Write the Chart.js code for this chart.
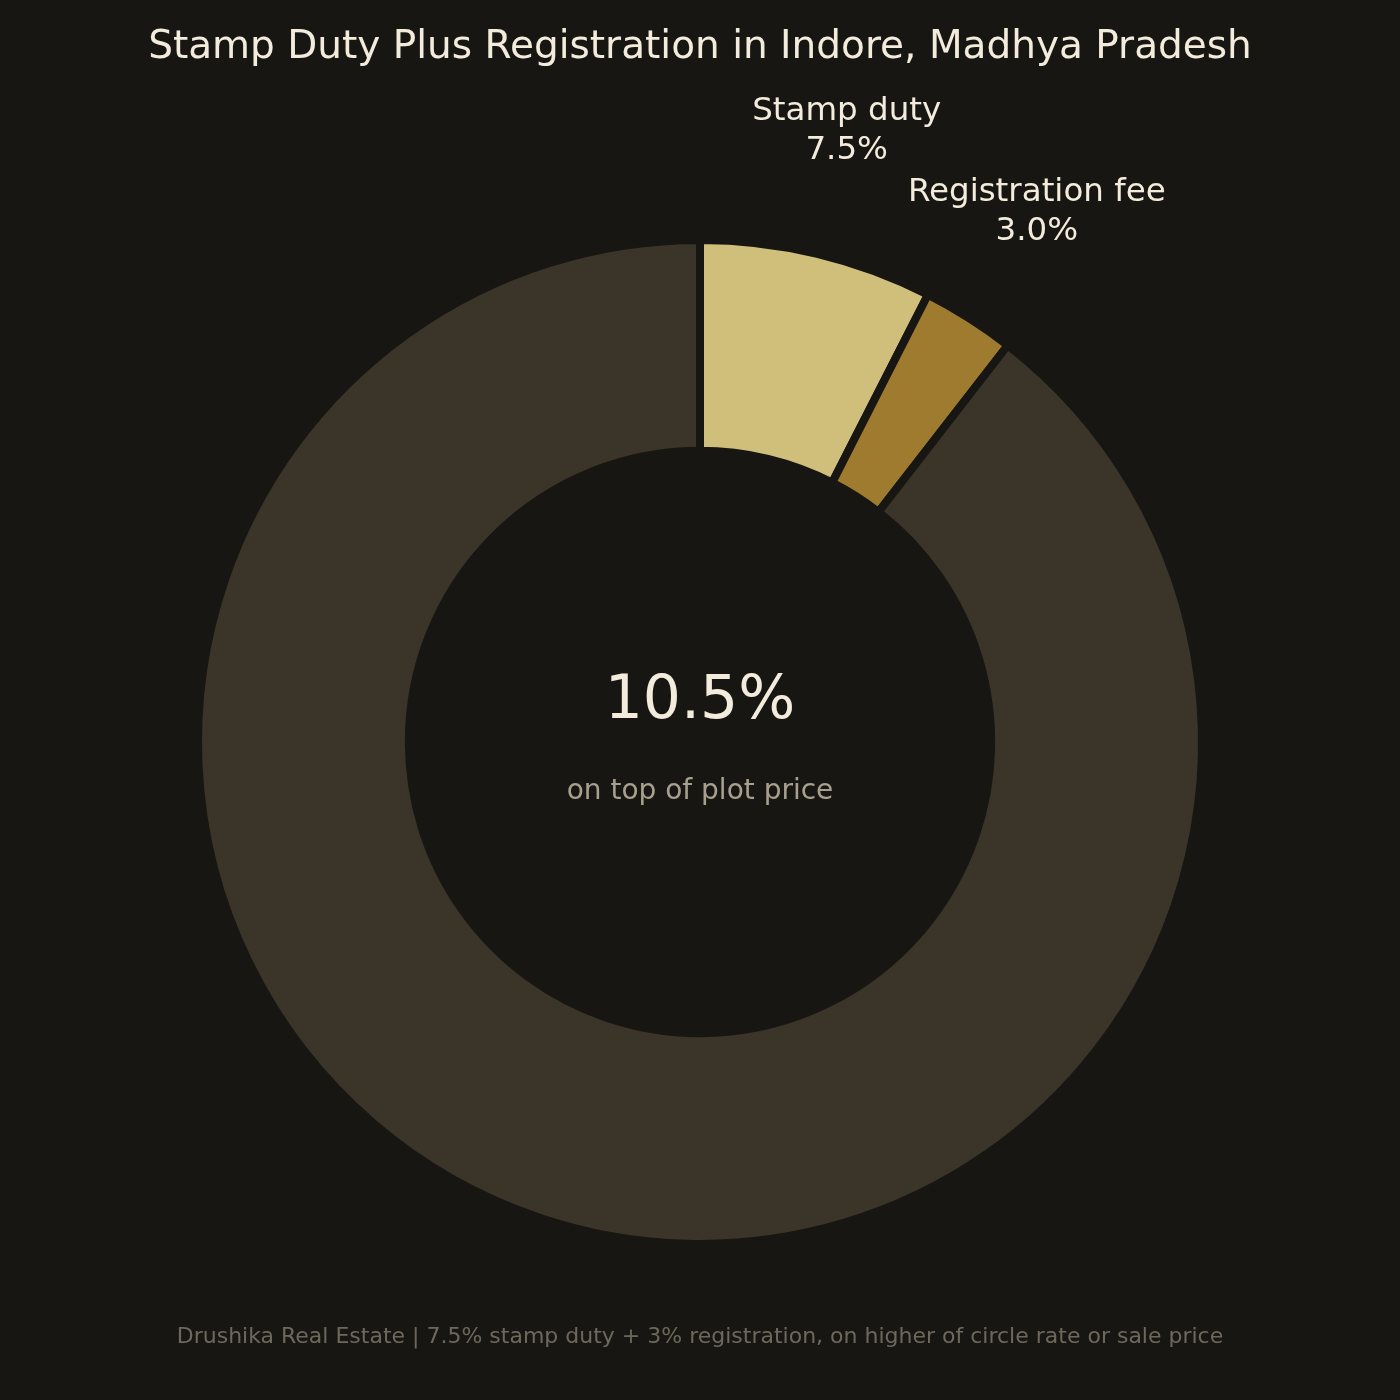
<!DOCTYPE html>
<html>
<head>
<meta charset="utf-8">
<script src="https://cdn.jsdelivr.net/npm/chart.js@4.4.1/dist/chart.umd.min.js"></script>
<style>
  html, body { margin: 0; padding: 0; background: #171612; }
  #wrap { width: 1400px; height: 1400px; position: relative; }
</style>
</head>
<body>
<div id="wrap"><canvas id="c" width="1400" height="1400"></canvas></div>
<script>
const categories = ['Stamp duty', 'Registration fee', 'Plot price'];
const values = [7.5, 3.0, 89.5];
const sliceColors = ['#cfbf7b', '#9e7b2f', '#3b3428'];
const labelledSlices = [0, 1];
const titleText = 'Stamp Duty Plus Registration in Indore, Madhya Pradesh';
const centerValue = '10.5%';
const centerNote = 'on top of plot price';
const footerText = 'Drushika Real Estate | 7.5% stamp duty + 3% registration, on higher of circle rate or sale price';

const BG = '#171612';
const FONT = '"DejaVu Sans", "Liberation Sans", sans-serif';

const textPlugin = {
  id: 'textPlugin',
  beforeDraw(chart) {
    const ctx = chart.ctx;
    ctx.save();
    ctx.fillStyle = BG;
    ctx.fillRect(0, 0, chart.width, chart.height);
    ctx.restore();
  },
  afterDraw(chart) {
    const ctx = chart.ctx;
    const meta = chart.getDatasetMeta(0);
    const arc0 = meta.data[0];
    const cx = arc0.x, cy = arc0.y;
    const outerR = arc0.outerRadius;
    ctx.save();
    ctx.textAlign = 'center';
    ctx.textBaseline = 'middle';
    // title
    ctx.fillStyle = '#f3ecdc';
    ctx.font = '39px ' + FONT;
    ctx.fillText(titleText, 700, 48);
    // slice labels
    ctx.font = '32.5px ' + FONT;
    labelledSlices.forEach(i => {
      const a = meta.data[i];
      const mid = (a.startAngle + a.endAngle) / 2;
      const r = outerR * 1.252;
      const lx = cx + Math.cos(mid) * r;
      const ly = cy + Math.sin(mid) * r;
      const pct = values[i].toFixed(1) + '%';
      ctx.fillStyle = '#f3ecdc';
      ctx.fillText(categories[i], lx, ly - 19);
      ctx.fillText(pct, lx, ly + 20);
    });
    // center
    ctx.fillStyle = '#f3ecdc';
    ctx.font = '60px ' + FONT;
    ctx.fillText(centerValue, cx, cy - 40);
    ctx.fillStyle = '#a8a08e';
    ctx.font = '28px ' + FONT;
    ctx.fillText(centerNote, cx, cy + 50);
    // footer
    ctx.fillStyle = '#6e685c';
    ctx.font = '22px ' + FONT;
    ctx.fillText(footerText, 700, 1337);
    ctx.restore();
  }
};

new Chart(document.getElementById('c'), {
  type: 'doughnut',
  data: {
    labels: categories,
    datasets: [{
      data: values,
      backgroundColor: sliceColors,
      borderColor: BG,
      borderWidth: 8,
      hoverOffset: 0
    }]
  },
  options: {
    responsive: false,
    animation: false,
    events: [],
    cutout: '58%',
    rotation: 0,
    layout: { padding: { left: 194, right: 194, top: 236, bottom: 152 } },
    plugins: {
      legend: { display: false },
      tooltip: { enabled: false },
      title: { display: false }
    }
  },
  plugins: [textPlugin]
});
</script>
</body>
</html>
